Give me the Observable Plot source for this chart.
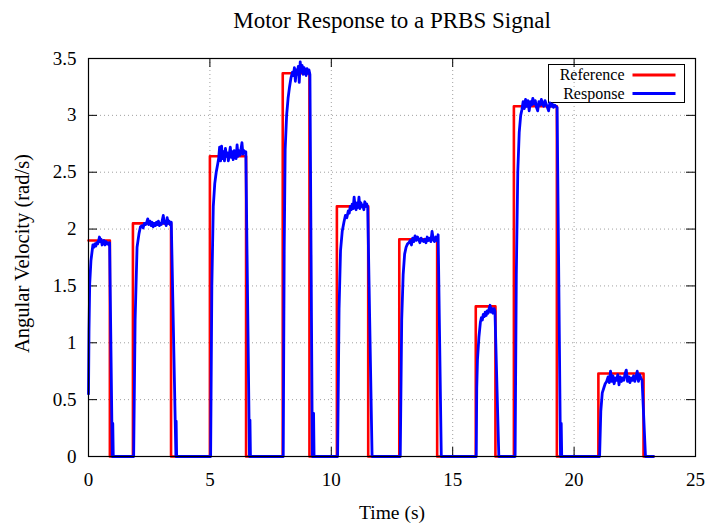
<!DOCTYPE html>
<html>
<head>
<meta charset="utf-8">
<script src="https://cdn.jsdelivr.net/npm/d3@7"></script>
<script src="https://cdn.jsdelivr.net/npm/@observablehq/plot@0.6"></script>
<style>
  html, body { margin: 0; padding: 0; background: #fff; }
  #chart { width: 706px; height: 523px; }
</style>
</head>
<body>
<div id="chart"></div>
<script>
const titleText = "Motor Response to a PRBS Signal";
const xLabelText = "Time (s)";
const yLabelText = "Angular Velocity (rad/s)";
const seriesNames = ["Reference", "Response"];

const xTicks = [0, 5, 10, 15, 20, 25];
const yTicks = [0, 0.5, 1, 1.5, 2, 2.5, 3, 3.5];

// Reference PRBS signal (step-after breakpoints)
const refTime  = [0, 0.88, 1.83, 3.40, 5.0, 6.49, 8.0, 9.10, 10.23, 11.52, 12.8, 14.36, 15.95, 16.76, 17.52, 19.29, 21.0, 22.86, 23.27];
const refValue = [1.90, 0, 2.05, 0, 2.64, 0, 3.37, 0, 2.20, 0, 1.91, 0, 1.32, 0, 3.08, 0, 0.73, 0, 0];

const respTime = [
  0, 0.02, 0.05, 0.1, 0.18, 0.22, 0.26, 0.3, 0.34, 0.38, 0.42, 0.45, 0.48, 0.52, 0.56, 0.6, 0.64, 0.68, 0.72, 0.76, 0.8, 0.84, 0.87, 0.98, 1.0, 1.02,
  1.86, 1.92, 2.0, 2.08, 2.14, 2.2, 2.25, 2.3, 2.35, 2.4, 2.44, 2.48, 2.53, 2.58, 2.62, 2.66, 2.7, 2.75, 2.8, 2.84, 2.88, 2.92, 2.96, 3.0, 3.04, 3.08, 3.12, 3.16, 3.2, 3.24, 3.28, 3.32, 3.36, 3.41, 3.6, 3.61, 3.63,
  5.03, 5.08, 5.14, 5.2, 5.26, 5.32, 5.36, 5.4, 5.44, 5.48, 5.52, 5.56, 5.6, 5.64, 5.68, 5.72, 5.76, 5.8, 5.84, 5.88, 5.92, 5.96, 6.0, 6.04, 6.08, 6.12, 6.16, 6.2, 6.24, 6.28, 6.32, 6.36, 6.4, 6.44, 6.48, 6.63, 6.65, 6.67,
  8.02, 8.06, 8.1, 8.16, 8.22, 8.28, 8.34, 8.4, 8.44, 8.48, 8.52, 8.56, 8.6, 8.64, 8.68, 8.72, 8.76, 8.8, 8.84, 8.88, 8.92, 8.96, 9.0, 9.04, 9.08, 9.12, 9.22, 9.27, 9.29,
  10.26, 10.32, 10.38, 10.45, 10.52, 10.58, 10.64, 10.7, 10.74, 10.78, 10.82, 10.86, 10.9, 10.94, 10.98, 11.02, 11.06, 11.1, 11.14, 11.18, 11.22, 11.26, 11.3, 11.34, 11.38, 11.42, 11.46, 11.5, 11.68,
  12.84, 12.9, 12.96, 13.02, 13.08, 13.14, 13.2, 13.25, 13.3, 13.35, 13.4, 13.45, 13.5, 13.55, 13.6, 13.65, 13.7, 13.75, 13.8, 13.85, 13.9, 13.95, 14.0, 14.05, 14.1, 14.15, 14.2, 14.25, 14.3, 14.35, 14.4, 14.53,
  15.97, 15.99, 16.02, 16.08, 16.14, 16.18, 16.22, 16.26, 16.3, 16.34, 16.38, 16.42, 16.46, 16.5, 16.54, 16.58, 16.62, 16.66, 16.7, 16.74, 16.9,
  17.57, 17.62, 17.68, 17.74, 17.8, 17.85, 17.9, 17.95, 18.0, 18.05, 18.1, 18.15, 18.2, 18.25, 18.3, 18.35, 18.4, 18.45, 18.5, 18.55, 18.6, 18.65, 18.7, 18.75, 18.8, 18.85, 18.9, 18.95, 19.0, 19.05, 19.1, 19.15, 19.2, 19.25, 19.3, 19.44, 19.47, 19.49,
  21.05, 21.1, 21.16, 21.22, 21.28, 21.34, 21.4, 21.45, 21.5, 21.55, 21.6, 21.65, 21.7, 21.75, 21.8, 21.85, 21.9, 21.95, 22.0, 22.05, 22.1, 22.15, 22.2, 22.25, 22.3, 22.35, 22.4, 22.45, 22.5, 22.55, 22.6, 22.65, 22.7, 22.75, 22.8, 22.94, 23.27
];
const respValue = [
  0.55, 1.1, 1.52, 1.72, 1.86, 1.84, 1.87, 1.85, 1.88, 1.87, 1.9, 1.93, 1.89, 1.91, 1.86, 1.88, 1.9, 1.86, 1.89, 1.87, 1.88, 1.86, 1.88, 0, 0.29, 0,
  0, 1.2, 1.84, 1.96, 2.02, 2.03, 2.01, 2.05, 2.04, 2.06, 2.09, 2.04, 2.07, 2.03, 2.06, 2.02, 2.05, 2.03, 2.06, 2.04, 2.07, 2.03, 2.05, 2.04, 2.08, 2.12, 2.05, 2.07, 2.03, 2.1, 2.05, 2.07, 2.04, 2.06, 0, 0.31, 0,
  0, 1.5, 2.2, 2.4, 2.5, 2.57, 2.62, 2.72, 2.6, 2.73, 2.62, 2.68, 2.6, 2.71, 2.64, 2.67, 2.6, 2.66, 2.72, 2.63, 2.68, 2.61, 2.69, 2.65, 2.62, 2.74, 2.64, 2.69, 2.65, 2.7, 2.76, 2.66, 2.69, 2.67, 2.68, 0, 0.32, 0,
  0, 1.8, 2.7, 3.0, 3.15, 3.25, 3.33, 3.38, 3.35, 3.42, 3.3, 3.4, 3.36, 3.43, 3.29, 3.47, 3.38, 3.44, 3.36, 3.42, 3.39, 3.35, 3.41, 3.37, 3.4, 3.36, 0, 0.38, 0,
  0, 1.3, 1.81, 1.98, 2.06, 2.12, 2.1, 2.16, 2.14, 2.2, 2.17, 2.22, 2.18, 2.28, 2.2, 2.17, 2.23, 2.19, 2.28, 2.18, 2.23, 2.2, 2.21, 2.17, 2.24, 2.2, 2.22, 2.19, 0,
  0, 1.2, 1.6, 1.78, 1.84, 1.87, 1.88, 1.9, 1.86, 1.92, 1.89, 1.94, 1.9, 1.93, 1.91, 1.88, 1.92, 1.9, 1.89, 1.91, 1.88, 1.93, 1.9, 1.92, 1.89, 1.98, 1.91, 1.89, 1.93, 1.9, 1.95, 0,
  0, 0.6, 0.85, 1.05, 1.18, 1.22, 1.2, 1.25, 1.23, 1.27, 1.24, 1.28, 1.26, 1.3, 1.33, 1.27, 1.3, 1.26, 1.3, 1.28, 0,
  0, 1.6, 2.5, 2.85, 3.0, 3.05, 3.12, 3.06, 3.14, 3.08, 3.13, 3.04, 3.12, 3.09, 3.15, 3.1, 3.13, 3.07, 3.04, 3.12, 3.09, 3.14, 3.1, 3.08, 3.13, 3.1, 3.07, 3.04, 3.11, 3.08, 3.1, 3.07, 3.09, 3.08, 3.07, 0, 0.29, 0,
  0, 0.4, 0.56, 0.6, 0.64, 0.66, 0.7, 0.65, 0.75, 0.66, 0.71, 0.64, 0.69, 0.67, 0.72, 0.63, 0.7, 0.66, 0.69, 0.67, 0.73, 0.76, 0.66, 0.7, 0.65, 0.69, 0.67, 0.71, 0.66, 0.7, 0.75, 0.66, 0.72, 0.69, 0.67, 0, 0
];

const refData = refTime.map((t, i) => ({t, v: refValue[i]}));
const respData = respTime.map((t, i) => ({t, v: respValue[i]}));

const W = 706, H = 523, ML = 88, MR = 11, MT = 58, MB = 67;
const FW = W - ML - MR, FH = H - MT - MB;
const TICK = 9;
const serif = "'Liberation Serif', 'Times New Roman', Times, serif";
const fmt = d => String(d);

const plot = Plot.plot({
  width: W, height: H,
  marginLeft: ML, marginRight: MR, marginTop: MT, marginBottom: MB,
  style: {fontFamily: serif, fontSize: "19px", color: "#000", background: "#fff"},
  x: {domain: [0, 25]},
  y: {domain: [0, 3.5]},
  marks: [
    Plot.gridX(xTicks, {stroke: "#a0a0a0", strokeOpacity: 1, strokeDasharray: "1,3"}),
    Plot.gridY(yTicks, {stroke: "#a0a0a0", strokeOpacity: 1, strokeDasharray: "1,3"}),
    Plot.axisX(xTicks, {tickSize: 0, tickPadding: 16, tickFormat: fmt, fontSize: 19, label: null}),
    Plot.axisY(yTicks, {tickSize: 0, tickPadding: 12, tickFormat: fmt, fontSize: 19, label: null}),
    // inward ticks (mirrored on all four sides)
    Plot.tickX(xTicks, {x: d => d, insetTop: FH - TICK, stroke: "#000"}),
    Plot.tickX(xTicks, {x: d => d, insetBottom: FH - TICK, stroke: "#000"}),
    Plot.tickY(yTicks, {y: d => d, insetRight: FW - TICK, stroke: "#000"}),
    Plot.tickY(yTicks, {y: d => d, insetLeft: FW - TICK, stroke: "#000"}),
    // legend box and swatches
    Plot.frame({insetLeft: 460, insetRight: 11, insetTop: 6, insetBottom: 354, stroke: "#000", strokeWidth: 1}),
    Plot.frame({insetLeft: 544, insetRight: 20, insetTop: 15, insetBottom: 380, fill: "#ff0000", stroke: null}),
    Plot.frame({insetLeft: 544, insetRight: 20, insetTop: 33.5, insetBottom: 361.5, fill: "#0000ff", stroke: null}),
    Plot.text([seriesNames[0]], {text: d => d, frameAnchor: "top-right", dx: -71, dy: 16.5, textAnchor: "end", lineAnchor: "middle", fontSize: 16, fill: "#000"}),
    Plot.text([seriesNames[1]], {text: d => d, frameAnchor: "top-right", dx: -71, dy: 35.5, textAnchor: "end", lineAnchor: "middle", fontSize: 16, fill: "#000"}),
    // data
    Plot.line(refData, {x: "t", y: "v", curve: "step-after", stroke: "#ff0000", strokeWidth: 2.6}),
    Plot.line(respData, {x: "t", y: "v", stroke: "#0000ff", strokeWidth: 2.8, strokeLinejoin: "round"}),
    Plot.frame({stroke: "#000", strokeWidth: 1.2}),
    // titles
    Plot.text([titleText], {text: d => d, frameAnchor: "top", dy: -38, textAnchor: "middle", lineAnchor: "middle", fontSize: 23, fill: "#000"}),
    Plot.text([xLabelText], {text: d => d, frameAnchor: "bottom", dy: 56, textAnchor: "middle", lineAnchor: "middle", fontSize: 19.5, fill: "#000"}),
    Plot.text([yLabelText], {text: d => d, frameAnchor: "left", dx: -66, dy: -4, rotate: -90, textAnchor: "middle", lineAnchor: "middle", fontSize: 20.5, fill: "#000"})
  ]
});
document.getElementById("chart").appendChild(plot);
</script>
</body>
</html>
